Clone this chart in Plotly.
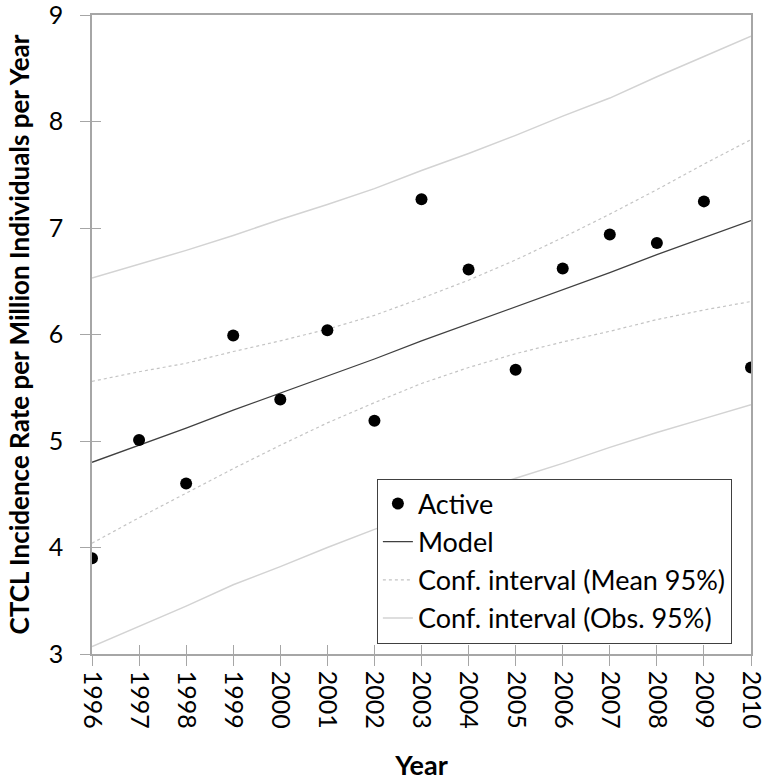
import plotly.graph_objects as go

years = [1996, 1997, 1998, 1999, 2000, 2001, 2002, 2003, 2004, 2005, 2006, 2007, 2008, 2009, 2010]
active = [3.90, 5.01, 4.60, 5.99, 5.39, 6.04, 5.19, 7.27, 6.61, 5.67, 6.62, 6.94, 6.86, 7.25, 5.69]
model = [4.80, 4.96, 5.12, 5.29, 5.45, 5.61, 5.77, 5.94, 6.10, 6.26, 6.42, 6.58, 6.75, 6.91, 7.07]
mean_lo = [4.04, 4.28, 4.51, 4.74, 4.96, 5.17, 5.36, 5.54, 5.69, 5.82, 5.93, 6.03, 6.14, 6.23, 6.31]
mean_hi = [5.56, 5.65, 5.73, 5.84, 5.94, 6.05, 6.18, 6.34, 6.51, 6.70, 6.91, 7.13, 7.36, 7.60, 7.83]
obs_lo = [3.07, 3.26, 3.45, 3.65, 3.82, 4.00, 4.17, 4.33, 4.50, 4.65, 4.79, 4.94, 5.08, 5.21, 5.34]
obs_hi = [6.53, 6.66, 6.79, 6.93, 7.08, 7.22, 7.37, 7.54, 7.70, 7.87, 8.05, 8.22, 8.42, 8.61, 8.80]
y_ticks = [3, 4, 5, 6, 7, 8, 9]

FONT = "Lato"
fig = go.Figure()

obs_style = dict(color="#d3d3d3", width=1.5)
mean_style = dict(color="#c4c4c4", width=1.2, dash="dot")

fig.add_trace(go.Scatter(x=years, y=obs_hi, mode="lines", line=obs_style, showlegend=False, hoverinfo="skip"))
fig.add_trace(go.Scatter(x=years, y=obs_lo, mode="lines", line=obs_style, showlegend=False, hoverinfo="skip"))
fig.add_trace(go.Scatter(x=years, y=mean_hi, mode="lines", line=mean_style, showlegend=False, hoverinfo="skip"))
fig.add_trace(go.Scatter(x=years, y=mean_lo, mode="lines", line=mean_style, showlegend=False, hoverinfo="skip"))
fig.add_trace(go.Scatter(x=years, y=model, mode="lines", line=dict(color="#404040", width=1.3),
                         name="Model", legendgroup="b", legendrank=2))
fig.add_trace(go.Scatter(x=years, y=active, mode="markers", marker=dict(color="black", size=12),
                         name="Active", legendgroup="a", legendrank=1))
fig.add_trace(go.Scatter(x=[None], y=[None], mode="lines", line=mean_style,
                         name="Conf. interval (Mean 95%)", legendgroup="c", legendrank=3))
fig.add_trace(go.Scatter(x=[None], y=[None], mode="lines", line=obs_style,
                         name="Conf. interval (Obs. 95%)", legendgroup="d", legendrank=4))

# overlay axis for inside tick marks (cross ticks)
fig.add_trace(go.Scatter(x=[years[0]], y=[3], yaxis="y2", xaxis="x2", mode="markers",
                         marker=dict(opacity=0), showlegend=False, hoverinfo="skip"))

axis_col = "#a6a6a6"
fig.update_layout(
    width=767, height=784,
    margin=dict(l=92, r=16, t=15, b=130),
    paper_bgcolor="white", plot_bgcolor="white",
    font=dict(family=FONT, color="black"),
    xaxis=dict(range=[1996, 2010], tickmode="array", tickvals=years,
               ticktext=[str(y) for y in years], tickangle=90,
               tickfont=dict(size=25), ticks="outside", ticklen=10, tickcolor=axis_col,
               ticklabeloverflow="allow",
               showline=True, linecolor=axis_col, linewidth=1.5, mirror=True,
               showgrid=False, zeroline=False, automargin=False,
               title=dict(text="<b>Year</b>", font=dict(size=27), standoff=28)),
    yaxis=dict(range=[3, 9], tickmode="array", tickvals=y_ticks,
               tickfont=dict(size=25), ticks="outside", ticklen=10, tickcolor=axis_col,
               ticklabelstandoff=12, ticklabeloverflow="allow",
               showline=True, linecolor=axis_col, linewidth=1.5, mirror=True,
               showgrid=False, zeroline=False, automargin=False,
               title=dict(text="<b>CTCL Incidence Rate per Million Individuals per Year</b>",
                          font=dict(size=26), standoff=12)),
    xaxis2=dict(range=[1996, 2010], overlaying="x", tickmode="array", tickvals=years,
                ticks="inside", ticklen=9, tickcolor=axis_col, showticklabels=False,
                showgrid=False, zeroline=False, showline=False, automargin=False),
    yaxis2=dict(range=[3, 9], overlaying="y", tickmode="array", tickvals=y_ticks,
                ticks="inside", ticklen=9, tickcolor=axis_col, showticklabels=False,
                showgrid=False, zeroline=False, showline=False, automargin=False),
    legend=dict(x=0.971, y=0.1455, xanchor="right", yanchor="middle",
                bgcolor="white", bordercolor="#404040", borderwidth=1,
                font=dict(size=27, family=FONT), tracegroupgap=0,
                traceorder="grouped", itemwidth=30),
)

fig.write_html("out.html", config={"displayModeBar": False},
               post_script="document.body.style.margin='0';document.body.style.overflow='hidden';")
